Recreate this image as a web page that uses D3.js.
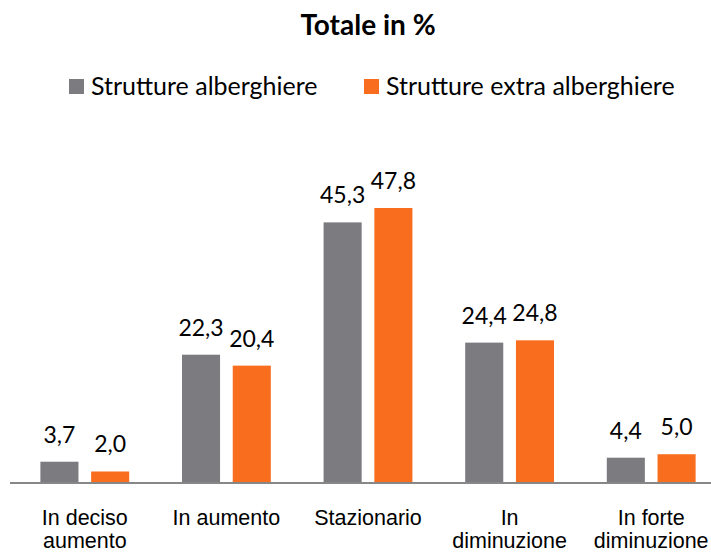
<!DOCTYPE html>
<html><head><meta charset="utf-8">
<script src="https://cdn.jsdelivr.net/npm/d3@7/dist/d3.min.js"></script>
<style>
html,body{margin:0;padding:0;background:#fff;overflow:hidden;}
svg{display:block;font-family:Lato,"Open Sans",sans-serif;}
</style></head>
<body>
<svg id="chart" width="711" height="553"></svg>
<script>
const categories = [["In deciso","aumento"],["In aumento"],["Stazionario"],["In","diminuzione"],["In forte","diminuzione"]];
const seriesNames = ["Strutture alberghiere","Strutture extra alberghiere"];
const alberghiere = [3.7, 22.3, 45.3, 24.4, 4.4];
const extraAlberghiere = [2.0, 20.4, 47.8, 24.8, 5.0];
const colors = ["#7b7b80", "#f86d1e"];
const title = "Totale in %";

const svg = d3.select("#chart");
const baseY = 483;
const fmt = v => v.toFixed(1).replace(".", ",");

const x = d3.scaleBand().domain(d3.range(categories.length)).range([14, 722]).paddingInner(0).paddingOuter(0);
const xs = d3.scaleBand().domain([0,1]).range([0, x.bandwidth()]).paddingInner(0.25).paddingOuter(0.52);
const y = d3.scaleLinear().domain([0, 47.8]).range([baseY, 208]);

svg.append("text").attr("x", 368).attr("y", 35).attr("text-anchor","middle")
  .attr("font-weight","bold").attr("font-size", 28).attr("fill","#000").text(title);

// legend
const legX = [69, 364];
seriesNames.forEach((n,i)=>{
  svg.append("rect").attr("x", legX[i]).attr("y", 79).attr("width", 15).attr("height", 15).attr("fill", colors[i]);
  svg.append("text").attr("x", legX[i]+22).attr("y", 95).attr("font-size", 25).attr("fill","#000").text(n);
});

const series = [alberghiere, extraAlberghiere];
series.forEach((vals, si)=>{
  const g = svg.append("g");
  g.selectAll("rect").data(vals).join("rect")
    .attr("x", (d,i)=> x(i) + xs(si))
    .attr("width", xs.bandwidth())
    .attr("y", d=> y(d))
    .attr("height", d=> baseY - y(d))
    .attr("fill", colors[si]);
  g.selectAll("text").data(vals).join("text")
    .attr("x", (d,i)=> x(i) + xs(si) + xs.bandwidth()/2)
    .attr("y", d=> y(d) - 19)
    .attr("text-anchor","middle").attr("font-size", 23).attr("fill","#000")
    .text(d=> fmt(d));
});

// axis
const axis = d3.axisBottom(x).tickSize(0).tickFormat("");
const ag = svg.append("g").attr("transform", `translate(0,${baseY})`).call(axis);
ag.select(".domain").attr("stroke","#878787").attr("stroke-width",2).attr("d","M10,0H711");
ag.selectAll(".tick").each(function(d){
  const t = d3.select(this).append("text").attr("fill","#000").attr("font-size",21.5)
    .attr("text-anchor","middle").attr("y", 42).attr("x", 0);
  categories[d].forEach((line, li)=>{
    t.append("tspan").attr("x",0).attr("dy", li===0 ? 0 : 23).text(line);
  });
});
</script>
</body></html>
